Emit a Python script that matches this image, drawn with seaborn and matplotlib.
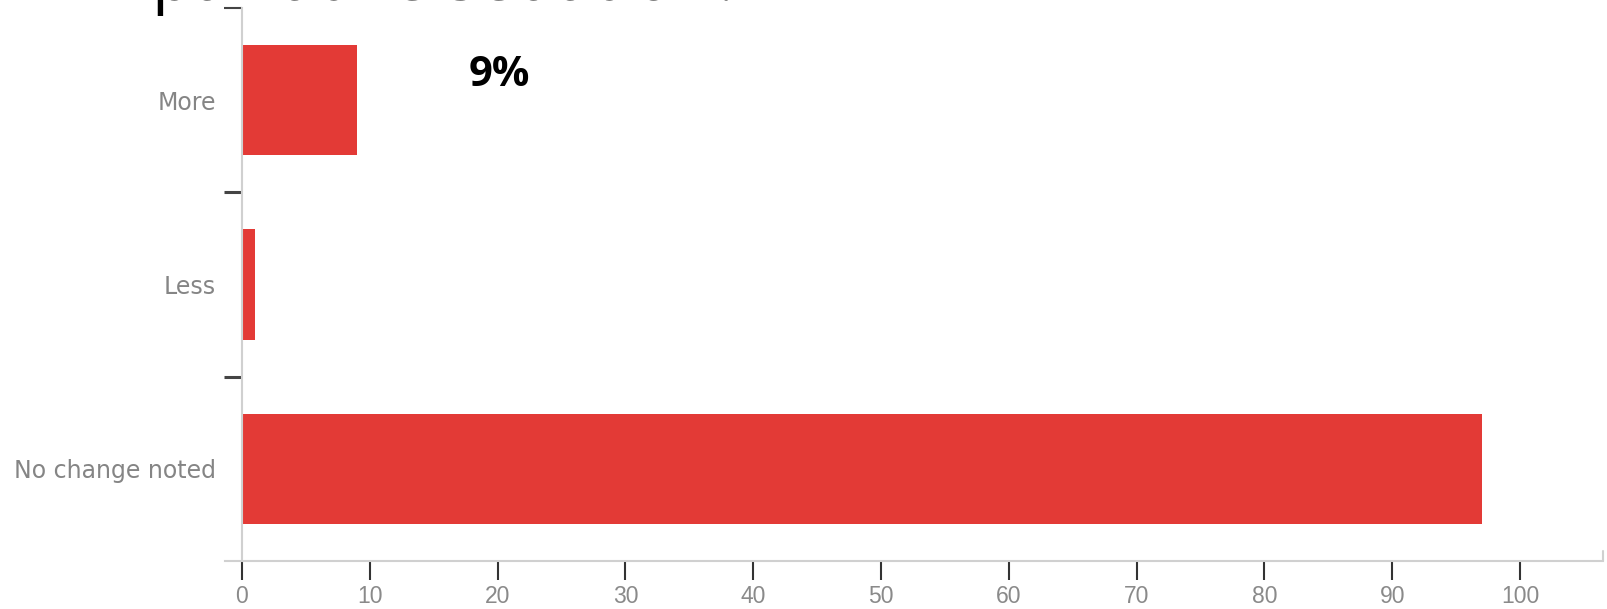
import matplotlib
matplotlib.use("Agg")
import matplotlib.pyplot as plt
import seaborn as sns
import pandas as pd

categories = ["More", "Less", "No change noted"]
values = [9, 1, 97]
x_ticks = [0, 10, 20, 30, 40, 50, 60, 70, 80, 90, 100]
title_text = "palliative sedation?"
note_text = "9%"

sns.set_theme(style="white")
plt.rcParams['font.family'] = ['Liberation Sans', 'DejaVu Sans']

df = pd.DataFrame({"category": categories, "value": values})

W, H = 1607, 609
fig = plt.figure(figsize=(W / 100, H / 100), dpi=100)
ax = fig.add_axes([225 / W, (H - 561) / H, 1378 / W, 553 / H])

sns.barplot(data=df, x="value", y="category", order=categories, color="#e33a36",
            saturation=1, width=0.6, ax=ax, orient="h")
for p in ax.patches:
    p.set_edgecolor("none")

ax.set_xlim(-1.33, 106.5)
ax.set_ylim(2.5, -0.5)
ax.set_xlabel("")
ax.set_ylabel("")

for s in ["top", "right"]:
    ax.spines[s].set_visible(False)
ax.spines["left"].set_position(("data", 0))
for s in ["left", "bottom"]:
    ax.spines[s].set_color("#d0d0d0")
    ax.spines[s].set_linewidth(1.5)

ax.set_xticks(x_ticks)
ax.set_xticklabels([str(t) for t in x_ticks])
ax.tick_params(axis="x", bottom=True, length=13.5, width=1.5, color="#333333",
               labelsize=16.5, labelcolor="#8a8a8a", pad=3.5)
ax.xaxis.get_major_ticks()[0].tick1line.set_color("#d0d0d0")

ax.tick_params(axis="y", which="major", left=False, length=0, labelsize=17,
               labelcolor="#858585", pad=18.7)
for lab in ax.get_yticklabels():
    lab.set_family(["DejaVu Sans"])
ax.set_yticks([-0.5, 0.5, 1.5], minor=True)
ax.tick_params(axis="y", which="minor", left=True, length=13, width=2.2, color="#444444")
ax.yaxis.get_minor_ticks()[0].tick1line.set_color("#d0d0d0")
ax.yaxis.get_minor_ticks()[0].tick1line.set_markeredgewidth(1.5)

# right-end outer tick of x domain
ax.plot([1, 1], [0, 0.018], transform=ax.transAxes, color="#d0d0d0", lw=1.5, clip_on=False)

fig.text(152 / W, 1.0, title_text, fontsize=48, family=["Open Sans", "DejaVu Sans"],
         color="black", ha="left", va="baseline")
fig.text(499 / W, 1 - 76 / H, note_text, fontsize=30, fontweight="bold",
         family=["Open Sans", "DejaVu Sans"], color="black", ha="center", va="center")

fig.savefig("out.png", dpi=100)
